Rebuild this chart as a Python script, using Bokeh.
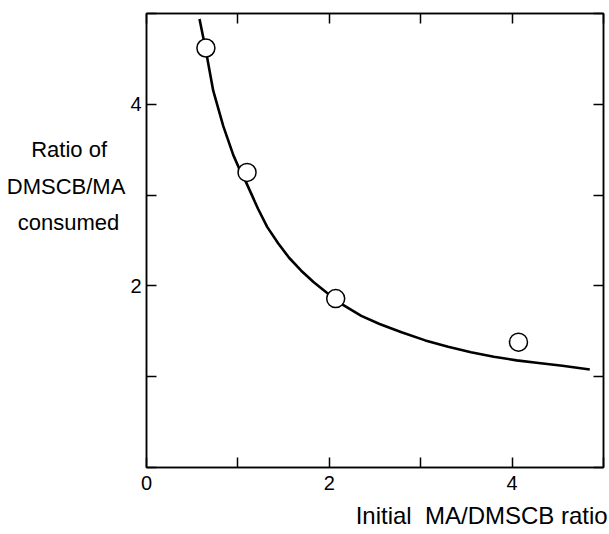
from bokeh.plotting import figure
from bokeh.models import Range1d, FixedTicker, LinearAxis
from bokeh.embed import file_html
from bokeh.resources import INLINE

pt_x = [0.65, 1.10, 2.07, 4.07]
pt_y = [4.62, 3.25, 1.86, 1.38]

curve_x = [0.58, 0.65, 0.73, 0.84, 0.95, 1.02, 1.09, 1.22, 1.32, 1.44, 1.56, 1.69, 1.83, 1.98,
           2.15, 2.35, 2.55, 2.79, 3.05, 3.30, 3.55, 3.80, 4.05, 4.29, 4.55, 4.85]
curve_y = [4.94, 4.59, 4.15, 3.76, 3.44, 3.28, 3.14, 2.85, 2.65, 2.47, 2.31, 2.17, 2.04, 1.92,
           1.79, 1.67, 1.58, 1.49, 1.40, 1.33, 1.27, 1.22, 1.18, 1.15, 1.12, 1.08]

x_ticks = [0, 1, 2, 3, 4, 5]
x_tick_labels = {0: "0", 1: "", 2: "2", 3: "", 4: "4", 5: ""}
y_ticks = [0, 1, 2, 3, 4, 5]
y_tick_labels = {0: "", 1: "", 2: "2", 3: "", 4: "4", 5: ""}
y_title = ["Ratio of", "DMSCB/MA", "consumed"]
x_title = "Initial\u00a0 MA/DMSCB ratio"

FONT = "Liberation Sans"
FS = "20px"
TFS = "22px"
XTFS = "24px"

NB = "\u00a0"

p = figure(width=609, height=534, output_backend="svg", toolbar_location=None,
           x_range=Range1d(0, 5), y_range=Range1d(0, 5),
           min_border_left=146, min_border_right=6, min_border_top=13, min_border_bottom=67)
p.grid.visible = False
p.outline_line_color = "black"
p.outline_line_width = 1.5

xa = p.xaxis[0]
ya = p.yaxis[0]
xa.ticker = FixedTicker(ticks=x_ticks)
ya.ticker = FixedTicker(ticks=y_ticks)
for ax, labels, so in ((xa, x_tick_labels, 8), (ya, y_tick_labels, 5)):
    ax.major_label_overrides = labels
    ax.major_tick_in = 10
    ax.major_tick_out = 0
    ax.minor_tick_in = 0
    ax.minor_tick_out = 0
    ax.axis_line_width = 1.5
    ax.major_tick_line_width = 1.5
    ax.major_label_text_font = FONT
    ax.major_label_text_font_size = FS
    ax.major_label_text_color = "black"
    ax.major_label_standoff = so
    ax.axis_label_text_font = FONT
    ax.axis_label_text_font_size = TFS
    ax.axis_label_text_font_style = "normal"
    ax.axis_label_text_color = "black"

props = xa.properties()

# the axis label is centred under the frame; leading no-break spaces push
# the visible text to the right-hand end as in the reference
xa.axis_label = NB * 32 + x_title
xa.axis_label_standoff = 9
xa.axis_label_text_font_size = XTFS
xa.axis_label_text_line_height = 1.0

# pad shorter lines with no-break spaces so the three lines look centred
padded = [y_title[0] + NB * 3, y_title[1], y_title[2] + NB]
ya.axis_label = "\n".join(padded + [" ", " ", " "])
ya.axis_label_standoff = 2
ya.axis_label_text_line_height = 1.45
if "axis_label_orientation" in props:
    ya.axis_label_orientation = "horizontal"

top = LinearAxis(ticker=FixedTicker(ticks=x_ticks), major_tick_in=10, major_tick_out=0,
                 minor_tick_in=0, minor_tick_out=0, axis_line_width=1.5, major_tick_line_width=1.5,
                 major_label_overrides={t: "" for t in x_ticks}, major_label_standoff=0)
right = LinearAxis(ticker=FixedTicker(ticks=y_ticks), major_tick_in=10, major_tick_out=0,
                   minor_tick_in=0, minor_tick_out=0, axis_line_width=1.5, major_tick_line_width=1.5,
                   major_label_overrides={t: "" for t in y_ticks}, major_label_standoff=0)
p.add_layout(top, "above")
p.add_layout(right, "right")

p.line(curve_x, curve_y, line_color="black", line_width=2.6, line_join="round")
p.scatter(pt_x, pt_y, size=18, marker="circle", fill_color="white", line_color="black", line_width=1.5)

open("out.html", "w").write(file_html(p, INLINE))
